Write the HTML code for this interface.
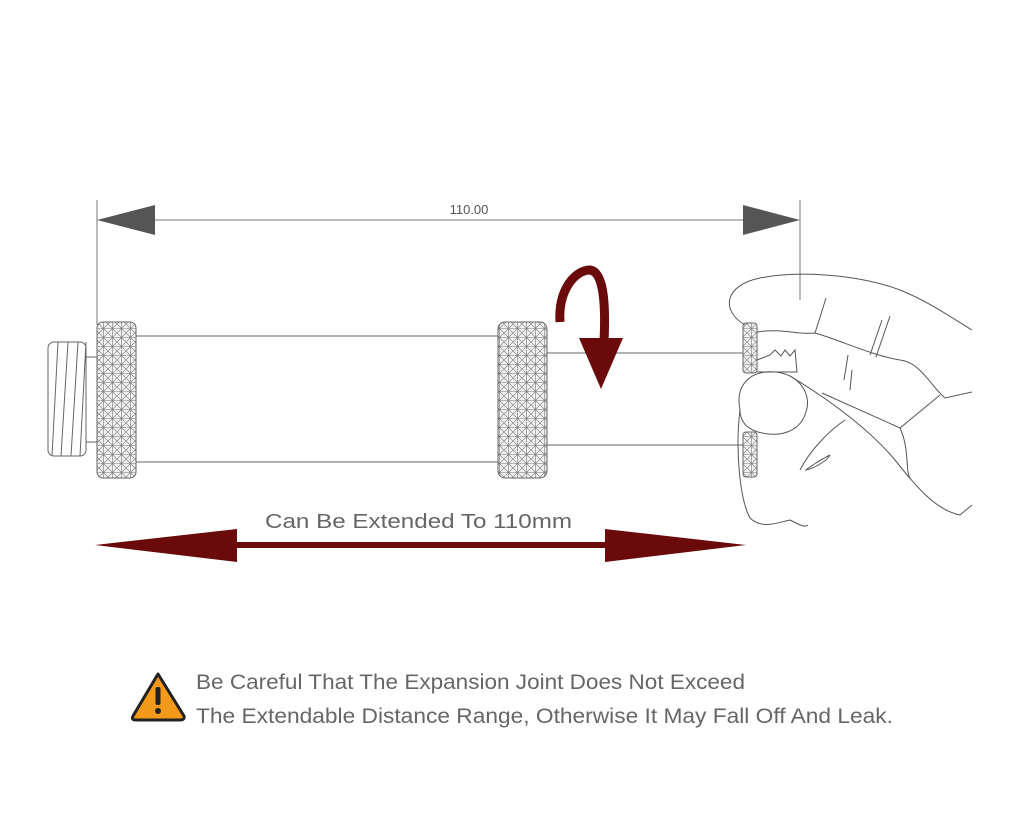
<!DOCTYPE html>
<html><head><style>
html,body{margin:0;padding:0;background:#fff;}
svg{display:block;}
text{font-family:"Liberation Sans","DejaVu Sans",sans-serif;}
</style></head><body>
<svg width="1024" height="819" viewBox="0 0 1024 819" xmlns="http://www.w3.org/2000/svg">
<defs>
<pattern id="kn" width="9" height="9" patternUnits="userSpaceOnUse">
<rect width="9" height="9" fill="#f0f0f0"/>
<path d="M0 0L9 9M9 0L0 9M4.5 0V9M0 4.5H9" stroke="#777" stroke-width="0.6"/>
</pattern>
</defs>
<g stroke="#777" stroke-width="1" fill="none">
<line x1="97" y1="200" x2="97" y2="325"/>
<line x1="800" y1="200" x2="800" y2="300"/>
<line x1="150" y1="220" x2="748" y2="220"/>
</g>
<polygon points="97,220 155,205 155,235" fill="#555"/>
<polygon points="800,220 743,205 743,235" fill="#555"/>
<text x="469" y="214" font-size="13" fill="#555" text-anchor="middle">110.00</text>

<g stroke="#666" stroke-width="1" fill="none">
<rect x="48" y="342" width="38" height="114" rx="6"/>
<path d="M58 342 L52 456 M68 342 L61 456 M78 342 L71 456 M86 342 L80 456"/>
<line x1="86" y1="357" x2="97" y2="357"/><line x1="86" y1="442" x2="97" y2="442"/>
<line x1="136" y1="336" x2="498" y2="336"/><line x1="136" y1="462" x2="498" y2="462"/>
<line x1="547" y1="353" x2="745" y2="353"/><line x1="547" y1="445" x2="745" y2="445"/>
</g>
<rect x="97" y="322" width="39" height="156" rx="6" fill="url(#kn)" stroke="#666"/>
<rect x="498" y="322" width="49" height="156" rx="7" fill="url(#kn)" stroke="#666"/>
<rect x="743" y="323" width="14" height="50" rx="3" fill="url(#kn)" stroke="#666"/>
<rect x="743" y="432" width="14" height="45" rx="3" fill="url(#kn)" stroke="#666"/>

<g stroke="#555" stroke-width="1" fill="none">
<path d="M745 325 C720 310 725 285 760 278 C800 270 860 275 900 290 C930 302 955 320 972 330"/>
<path d="M757 332 C780 328 800 335 815 333 C840 340 870 355 900 360 C920 362 930 385 945 398 L972 392"/>
<path d="M815 333 L826 298 M876 357 L890 316 M870 355 L882 320"/>
<path d="M757 360 L770 355 L775 350 L781 356 L785 350 L790 356 L795 350 L797 372 L757 372"/>
<path d="M740 410 C735 385 750 370 775 372 C800 374 812 395 806 412 C800 432 780 438 758 432 C745 428 740 420 740 410"/>
<path d="M740 410 C735 450 740 500 750 518 C762 530 780 522 790 520 C800 525 805 528 808 525"/>
<path d="M790 376 C830 400 870 430 895 460 C915 485 935 510 960 515 L972 505"/>
<path d="M822 393 L900 428 L940 395 M900 428 C910 450 905 470 910 478"/>
<path d="M845 420 C830 430 810 450 800 470 M830 455 C820 460 808 468 806 470 C815 468 828 460 830 455 M844 380 L848 355 M850 390 L852 370"/>
</g>

<path d="M560 322 C558 290 575 270 590 270 C603 272 606 300 604 342" stroke="#6b0a0a" stroke-width="9" fill="none"/>
<polygon points="579,338 623,338 601,389" fill="#6b0a0a"/>

<text x="265" y="528" font-size="20" fill="#666" textLength="307" lengthAdjust="spacingAndGlyphs">Can Be Extended To 110mm</text>
<rect x="230" y="542" width="380" height="6" fill="#6b0a0a"/>
<polygon points="95,545 237,529 237,562" fill="#6b0a0a"/>
<polygon points="746,545 605,529 605,562" fill="#6b0a0a"/>

<path d="M158 674 L184 716 Q185 720 180 720 L136 720 Q131 720 133 716 Z" fill="#f39a1b" stroke="#222" stroke-width="3" stroke-linejoin="round"/>
<rect x="155.5" y="687" width="5" height="18" rx="2" fill="#222"/>
<circle cx="158" cy="711" r="3" fill="#222"/>
<text x="196" y="689" font-size="21" fill="#666" textLength="549" lengthAdjust="spacingAndGlyphs">Be Careful That The Expansion Joint Does Not Exceed</text>
<text x="196" y="723" font-size="21" fill="#666" textLength="697" lengthAdjust="spacingAndGlyphs">The Extendable Distance Range, Otherwise It May Fall Off And Leak.</text>
</svg>
</body></html>
